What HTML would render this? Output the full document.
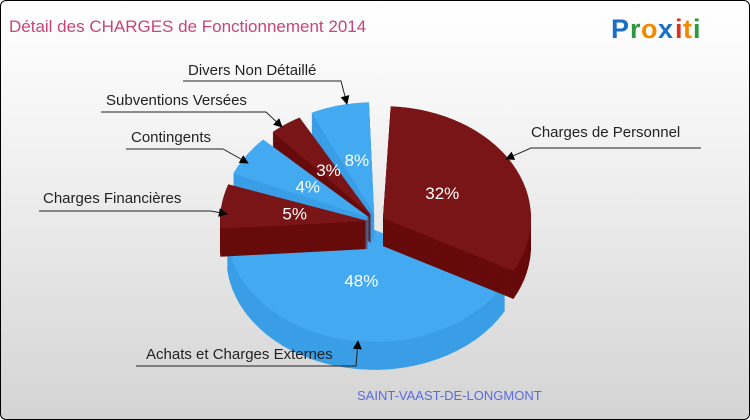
<!DOCTYPE html>
<html><head><meta charset="utf-8"><style>
html,body{margin:0;padding:0;}
body{width:750px;height:420px;overflow:hidden;}
#wrap{position:absolute;left:0;top:0;width:748px;height:418px;border:1px solid #000;border-radius:6px;background:linear-gradient(#ffffff,#f4f4f4 30%,#d4d4d4);overflow:hidden;}
text{font-family:"Liberation Sans",sans-serif;}
</style></head><body>
<div id="wrap">
<svg id="svg" width="750" height="420">
<defs><marker id="ar" viewBox="0 0 10 10" refX="9" refY="5" markerWidth="9" markerHeight="9" orient="auto"><path d="M0,0 L10,5 L0,10 z" fill="#000"/></marker></defs>
<text x="8" y="31" font-size="17" fill="#c8457a">Détail des CHARGES de Fonctionnement 2014</text>
<g font-size="27" font-weight="bold">
<text x="610" y="37" fill="#1a6fc4">P</text><text x="629" y="37" fill="#2a9a3a">r</text><text x="640" y="37" fill="#f08a00">o</text><text x="657" y="37" fill="#1a6fc4">x</text><text x="674" y="37" fill="#e03020">i</text><text x="682" y="37" fill="#f08a00">t</text><text x="692" y="37" fill="#2a9a3a">i</text>
</g>
<text x="356" y="399" font-size="13" fill="#5a6ae0">SAINT-VAAST-DE-LONGMONT</text>
<g id="pie"></g>
<g id="labels"></g>
<g id="callouts"></g>
</svg>
</div>
<script>
const categories=["Charges de Personnel","Achats et Charges Externes","Charges Financières","Contingents","Subventions Versées","Divers Non Détaillé"];
const values=[32,48,5,4,3,8];
const pctLabels=["32%","48%","5%","4%","3%","8%"];
const NS="http://www.w3.org/2000/svg";
const cx=375,cy=221,rx=148,ry=112,depth=28,explode=8,startDeg=3;
const tops=["#7a1517","#43aaf2"],sides=["#660a0b","#3a9ee6"];
// 3D perspective angle warp (true angle deg -> displayed angle deg)
const warpIn=[0,3,118,291,306,320,331,363];
const warpOut=[0,3,118,264,286,310,330,360];
function warp(d){
  for(let k=0;k<warpIn.length-1;k++){
    if(d<=warpIn[k+1]){const t=(d-warpIn[k])/(warpIn[k+1]-warpIn[k]);return warpOut[k]+t*(warpOut[k+1]-warpOut[k]);}
  }
  return d;
}
const total=values.reduce((a,b)=>a+b,0);
const R=Math.PI/180;
function pt(x0,y0,a,k){return [x0+rx*k*Math.sin(a),y0-ry*k*Math.cos(a)];}
function sector(x0,y0,a0,a1){
  const [x1,y1]=pt(x0,y0,a0,1),[x2,y2]=pt(x0,y0,a1,1);
  const large=(a1-a0)>Math.PI?1:0;
  return `M${x0},${y0} L${x1},${y1} A${rx},${ry} 0 ${large} 1 ${x2},${y2} Z`;
}
const pie=document.getElementById('pie');
const labels=document.getElementById('labels');
let acc=0;const slices=[];
values.forEach((v,i)=>{
  const d0=startDeg+acc/total*360;acc+=v;const d1=startDeg+acc/total*360;
  const pad=(v/total<0.1)?2:0;
  const a0=(warp(d0)+pad)*R,a1=(warp(d1)-pad)*R;
  slices.push({i,a0,a1,mid:(a0+a1)/2,big:v/total>=0.1});
});
// big front slices first, then small ones from top (back) to bottom
const order=slices.slice().sort((p,q)=>{
  if(p.big!==q.big) return p.big?-1:1;
  return p.big?Math.cos(p.mid)-Math.cos(q.mid):Math.cos(q.mid)-Math.cos(p.mid);
});
order.forEach(s=>{
  const ox=cx+explode*Math.sin(s.mid),oy=cy-explode*Math.cos(s.mid);
  const g=document.createElementNS(NS,'g');
  
  
  for(let d=depth;d>=1;d--){
    const p=document.createElementNS(NS,'path');
    p.setAttribute('d',sector(ox,oy+d,s.a0,s.a1));
    p.setAttribute('fill',sides[s.i%2]);
    g.appendChild(p);
  }
  const t=document.createElementNS(NS,'path');
  t.setAttribute('d',sector(ox,oy,s.a0,s.a1));
  t.setAttribute('fill',tops[s.i%2]);
  g.appendChild(t);
  pie.appendChild(g);
  const [lx,ly]=pt(ox,oy,s.mid,s.big?0.46:0.5);
  const tx=document.createElementNS(NS,'text');
  
  
  tx.setAttribute('x',lx);tx.setAttribute('y',ly+6);
  tx.setAttribute('text-anchor','middle');tx.setAttribute('font-size','17');tx.setAttribute('fill','#fff');
  tx.textContent=pctLabels[s.i];
  labels.appendChild(tx);
});
const callouts=[
 [530,136,"700,147 530,147 505,158"],
 [145,358,"135,365 355,365 357,340"],
 [42,202,"38,210 210,210 226,213"],
 [130,141,"125,148 222,148 247,162"],
 [105,104,"100,111 265,111 281,126"],
 [187,74,"182,80 340,80 346,103"]
];
const co=document.getElementById('callouts');
callouts.forEach((c,i)=>{
  const g=document.createElementNS(NS,'g');
  
  
  const pl=document.createElementNS(NS,'polyline');
  pl.setAttribute('points',c[2]);pl.setAttribute('fill','none');pl.setAttribute('stroke','#222');pl.setAttribute('stroke-width','1');pl.setAttribute('marker-end','url(#ar)');
  g.appendChild(pl);
  const t=document.createElementNS(NS,'text');
  t.setAttribute('x',c[0]);t.setAttribute('y',c[1]);t.setAttribute('font-size','15');t.setAttribute('fill','#222');
  t.textContent=categories[i];
  g.appendChild(t);
  co.appendChild(g);
});
</script>
</body></html>
